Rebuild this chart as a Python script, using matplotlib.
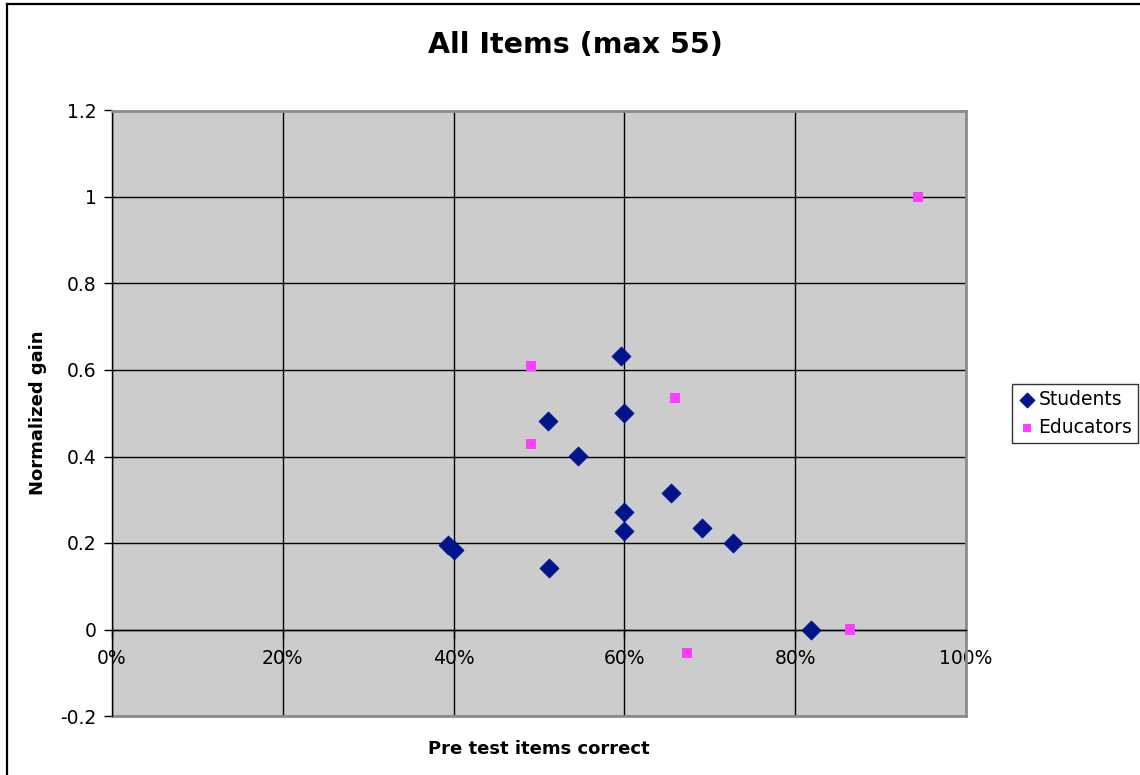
import matplotlib
matplotlib.use("Agg")
import matplotlib.pyplot as plt
from matplotlib.lines import Line2D
from matplotlib.ticker import FuncFormatter, MultipleLocator

# Pre-test fraction correct and normalized gain
students_pre = [0.393, 0.400, 0.510, 0.512, 0.546, 0.596, 0.600, 0.600, 0.600,
                0.655, 0.691, 0.727, 0.818]
students_gain = [0.195, 0.183, 0.482, 0.143, 0.401, 0.633, 0.501, 0.272, 0.228,
                 0.316, 0.235, 0.200, 0.000]

educators_pre = [0.491, 0.491, 0.659, 0.673, 0.864, 0.944]
educators_gain = [0.609, 0.429, 0.535, -0.055, 0.000, 1.000]

title = "All Items (max 55)"
xlabel = "Pre test items correct"
ylabel = "Normalized gain"
series_names = ["Students", "Educators"]

plt.rcParams["font.family"] = ["DejaVu Sans"]

W, H = 1140, 775
fig = plt.figure(figsize=(W / 100, H / 100), dpi=100)
fig.patch.set_facecolor("white")

# outer chart border (left and top edges)
fig.add_artist(Line2D([7 / W, 7 / W], [0, 1 - 4 / H], transform=fig.transFigure,
                      color="black", linewidth=1.6))
fig.add_artist(Line2D([7 / W, 1], [1 - 4 / H, 1 - 4 / H], transform=fig.transFigure,
                      color="black", linewidth=1.6))

left, right, top, bottom = 112, 966, 110.5, 716
ax = fig.add_axes([left / W, 1 - bottom / H, (right - left) / W, (bottom - top) / H])
ax.set_facecolor("#CCCCCC")

ax.set_xlim(0, 1.0)
ax.set_ylim(-0.2, 1.2)
ax.xaxis.set_major_locator(MultipleLocator(0.2))
ax.yaxis.set_major_locator(MultipleLocator(0.2))
ax.xaxis.set_major_formatter(FuncFormatter(lambda v, p: f"{v * 100:.0f}%"))
ax.yaxis.set_major_formatter(FuncFormatter(lambda v, p: "0" if abs(v) < 1e-9 else f"{v:g}"))

ax.grid(True, color="black", linewidth=1.0, zorder=1)
ax.set_axisbelow(True)

for side in ("top", "right"):
    ax.spines[side].set_color("#8C8C8C")
    ax.spines[side].set_linewidth(2.0)
    ax.spines[side].set_zorder(2.5)
ax.spines["left"].set_color("black")
ax.spines["left"].set_linewidth(1.0)
ax.spines["bottom"].set_position(("data", 0))
ax.spines["bottom"].set_color("black")
ax.spines["bottom"].set_linewidth(1.0)
# grey lower edge of the plot area
ax.axhline(-0.2, color="#8C8C8C", linewidth=2.0, zorder=2.5, clip_on=False)

ax.tick_params(axis="both", direction="out", length=6, width=1, colors="black",
               labelsize=13.5)
ax.tick_params(axis="y", pad=5)
ax.tick_params(axis="x", pad=8)

ax.scatter(students_pre, students_gain, marker="D", s=95,
           color="#00148C", edgecolors="#00148C", linewidths=0.5, zorder=3,
           label=series_names[0])
ax.scatter(educators_pre, educators_gain, marker="s", s=7.4 ** 2,
           color="#FF3DFF", edgecolors="none", zorder=3, label=series_names[1])

fig.text(575 / W, 1 - 45 / H, title, ha="center", va="center",
         fontsize=20.5, fontweight="bold")
fig.text((left + right) / 2 / W, 1 - 749 / H, xlabel, ha="center", va="center",
         fontsize=13, fontweight="bold")
fig.text(38 / W, 1 - 413 / H, ylabel, ha="center", va="center", rotation=90,
         fontsize=13, fontweight="bold")

leg = fig.legend(loc="upper left", bbox_to_anchor=(1012 / W, 1 - 384 / H),
                 frameon=True, fancybox=False, edgecolor="black", fontsize=13.5,
                 handletextpad=0.1, handlelength=1.0, borderpad=0.3,
                 labelspacing=0.5, borderaxespad=0, markerscale=0.8)
leg.get_frame().set_linewidth(1.0)

fig.savefig("out.png", dpi=100, facecolor="white")
